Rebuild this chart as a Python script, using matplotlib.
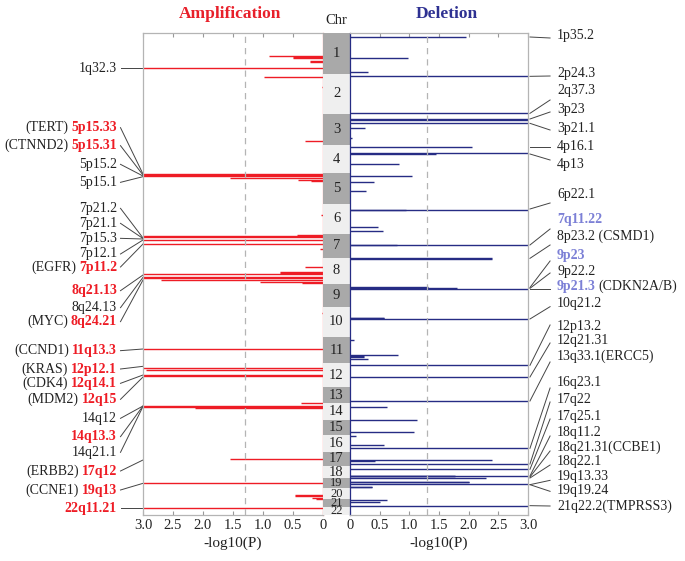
import numpy as np
import matplotlib
matplotlib.use('Agg')
import matplotlib.pyplot as plt

plt.rcParams['font.family'] = ['Liberation Serif', 'DejaVu Serif']

# chromosome sizes (approx. Mb as drawn)
chroms = list(range(1, 23))
chr_len = np.array([244, 240, 190, 168, 184, 178, 146, 156, 136, 180, 160,
                    144, 92, 104, 90, 100, 86, 74, 60, 66, 44, 50])
starts = np.concatenate([[0], np.cumsum(chr_len)[:-1]])

# amplification segments: chromosome, position in chromosome, -log10(P)
amp_chr = [1, 1, 1, 1, 1, 1, 2, 2, 3, 5, 5, 5, 5, 5, 5, 6, 7, 7, 7, 7, 7, 7,
           8, 8, 8, 8, 8, 8, 8, 8, 8, 10, 11, 12, 12, 12, 12, 14, 14, 14, 14,
           17, 19, 20, 20, 20, 20, 22]
amp_pos = [135, 144, 150, 168, 174, 212, 18, 82, 166, 2, 8, 14, 26, 38, 43, 64,
           10, 14, 20, 40, 62, 90, 56, 84, 89, 93, 114, 120, 129, 141, 147, 40,
           76, 30, 42, 70, 78, 4, 17, 24, 29, 44, 30, 38, 43, 60, 64, 10]
amp_val = [0.9, 0.5, 0.5, 0.22, 0.22, 3.0, 0.98, 0.02, 0.3, 3.0, 3.0, 3.0, 1.55,
           0.41, 0.2, 0.03, 0.43, 3.0, 3.0, 3.0, 3.0, 0.05, 0.3, 0.72, 0.72, 3.0,
           3.0, 3.0, 2.7, 1.05, 0.35, 0.02, 3.0, 3.0, 2.95, 3.0, 3.0, 0.36, 3.0,
           3.0, 2.13, 1.55, 3.0, 0.46, 0.46, 0.19, 0.11, 3.0]

# deletion segments
del_chr = [1, 1, 1, 2, 2, 3, 3, 3, 3, 3, 4, 4, 4, 4, 5, 5, 5, 6, 6, 6, 6, 7, 7,
           8, 8, 9, 9, 9, 9, 10, 10, 10, 11, 11, 11, 11, 11, 12, 12, 13, 14, 14,
           15, 16, 16, 16, 17, 17, 17, 18, 18, 18, 18, 18, 19, 19, 19, 19, 19,
           21, 21, 21]
del_pos = [24, 150, 232, 16, 236, 32, 36, 56, 84, 146, 10, 48, 51, 112, 18, 54,
           108, 34, 36, 140, 160, 65, 68, 2, 6, 18, 23, 26, 30, 66, 70, 74, 20,
           108, 118, 122, 132, 12, 82, 82, 23, 101, 74, 3, 61, 80, 52, 55, 74,
           20, 58, 59, 62, 69, 20, 24, 34, 50, 54, 4, 14, 38]
del_val = [1.96, 0.97, 0.3, 3.0, 3.0, 3.0, 3.0, 3.0, 0.25, 0.04, 2.05, 3.0, 1.45,
           0.83, 1.05, 0.4, 0.27, 0.94, 3.0, 0.48, 0.56, 0.8, 3.0, 2.4, 2.4,
           1.31, 1.31, 1.8, 3.0, 0.58, 0.58, 3.0, 0.06, 0.81, 0.24, 0.24, 0.3,
           3.0, 3.0, 3.0, 0.62, 1.13, 1.08, 0.1, 0.58, 3.0, 2.4, 0.42, 3.0, 3.0,
           1.77, 3.0, 1.77, 2.3, 2.0, 2.0, 3.0, 0.37, 0.37, 0.63, 0.5, 3.0]

# left labels: band, gene, highlighted, label y, target y (genome units)
amp_band = ['1q32.3', '5p15.33', '5p15.31', '5p15.2', '5p15.1', '7p21.2',
            '7p21.1', '7p15.3', '7p12.1', '7p11.2', '8q21.13', '8q24.13',
            '8q24.21', '11q13.3', '12p12.1', '12q14.1', '12q15', '14q12',
            '14q13.3', '14q21.1', '17q12', '19q13', '22q11.21']
amp_gene = ['', '(TERT)', '(CTNND2)', '', '', '', '', '', '', '(EGFR)', '', '',
            '(MYC)', '(CCND1)', '(KRAS)', '(CDK4)', '(MDM2)', '', '', '',
            '(ERBB2)', '(CCNE1)', '']
amp_hl = [0, 1, 1, 0, 0, 0, 0, 0, 0, 1, 1, 0, 1, 1, 1, 1, 1, 0, 1, 0, 1, 1, 1]
amp_lab_y = [212, 568, 676, 788, 896, 1052, 1142, 1232, 1326, 1404, 1546, 1648,
             1732, 1906, 2016, 2102, 2198, 2312, 2422, 2516, 2628, 2742, 2852]
amp_tgt_y = [212, 846, 852, 858, 862, 1230, 1233, 1236, 1242, 1266, 1452, 1466,
             1482, 1896, 2000, 2052, 2064, 2238, 2238, 2241, 2562, 2702, 2852]

# right labels
del_band = ['1p35.2', '2p24.3', '2q37.3', '3p23', '3p21.1', '4p16.1', '4p13',
            '6p22.1', '7q11.22', '8p23.2 (CSMD1)', '9p23', '9p22.2', '9p21.3',
            '10q21.2', '12p13.2', '12q21.31', '13q33.1(ERCC5)', '16q23.1',
            '17q22', '17q25.1', '18q11.2', '18q21.31(CCBE1)', '18q22.1',
            '19q13.33', '19q19.24', '21q22.2(TMPRSS3)']
del_gene = [''] * 12 + ['(CDKN2A/B)'] + [''] * 13
del_hl = [0, 0, 0, 0, 0, 0, 0, 0, 1, 0, 1, 0, 1, 0, 0, 0, 0, 0, 0, 0, 0, 0, 0,
          0, 0, 0]
del_lab_y = [18, 246, 346, 462, 572, 682, 788, 968, 1118, 1222, 1332, 1432,
             1520, 1622, 1762, 1842, 1942, 2098, 2198, 2298, 2396, 2486, 2572,
             2662, 2744, 2842]
del_tgt_y = [24, 260, 482, 516, 542, 684, 726, 1056, 1272, 1352, 1527, 1532,
             1536, 1716, 1994, 2064, 2208, 2492, 2586, 2618, 2658, 2664, 2670,
             2710, 2710, 2836]
del_end_y = [30, 258, 402, 474, 582, 684, 762, 1020, 1176, 1272, 1368, 1440,
             1536, 1642, 1752, 1860, 1974, 2130, 2214, 2316, 2418, 2508, 2592,
             2684, 2750, 2838]

RED = '#ee1c25'
NAVY = '#262c84'
PURPLE = '#7c80d6'
GREY = '#b4b4b4'
TXT = '#222222'
FS = 10.5
FS_LAB = 10

total = chr_len.sum()


def gpos(c, p):
    return starts[np.array(c) - 1] + np.array(p)


fig = plt.figure(figsize=(6.85, 5.61), dpi=100)
bottom, height = 46 / 561, 482 / 561
ax_amp = fig.add_axes([143 / 685, bottom, 180 / 685, height])
ax_chr = fig.add_axes([323 / 685, bottom, 27 / 685, height])
ax_del = fig.add_axes([350 / 685, bottom, 178 / 685, height])

for ax in (ax_amp, ax_chr, ax_del):
    ax.set_ylim(total, 0)
    ax.tick_params(axis='y', left=False, right=False, labelleft=False)

# bars
ax_amp.hlines(gpos(amp_chr, amp_pos), 0, amp_val, color=RED, lw=1.0)
ax_del.hlines(gpos(del_chr, del_pos), 0, del_val, color=NAVY, lw=1.0)

ticks = [0, 0.5, 1.0, 1.5, 2.0, 2.5, 3.0]
tick_lab = ['0', '0.5', '1.0', '1.5', '2.0', '2.5', '3.0']
for ax, lim in ((ax_amp, (3, 0)), (ax_del, (0, 3))):
    ax.set_xlim(*lim)
    ax.set_xticks(ticks)
    ax.set_xticklabels(tick_lab)
    ax.tick_params(axis='x', direction='in', top=True, length=3, color='#999999',
                   labelsize=FS, pad=3, labelcolor=TXT)
    ax.axvline(1.3, color=GREY, lw=0.9, ls=(0, (5, 4)))
    ax.set_xlabel('-log10(P)', fontsize=FS + 0.5, color=TXT, labelpad=3)
    for s in ax.spines.values():
        s.set_color(GREY)
        s.set_linewidth(0.9)

ax_amp.spines['right'].set_color('#ff7070')
ax_del.spines['left'].set_color(NAVY)

# chromosome column
cols = ['#a9a9a9' if c % 2 else '#efefef' for c in chroms]
ax_chr.barh(starts + chr_len / 2, 1, height=chr_len, color=cols, edgecolor='none')
ax_chr.set_xlim(0, 1)
ax_chr.set_xticks([])
for s in ax_chr.spines.values():
    s.set_visible(False)
for c, st, ln in zip(chroms, starts, chr_len):
    ax_chr.text(0.5, st + ln / 2, str(c), ha='center', va='center',
                fontsize=FS if c < 19 else 9, color=TXT, clip_on=False)

# left labels
tr = ax_amp.get_yaxis_transform()
for band, gene, hl, ly, ty in zip(amp_band, amp_gene, amp_hl, amp_lab_y, amp_tgt_y):
    ax_amp.plot([-0.125, 0], [ly, ty], transform=tr, clip_on=False,
                color='#444444', lw=0.7)
    t = ax_amp.text(-0.145, ly, band, transform=tr, ha='right', va='center',
                    fontsize=FS_LAB, color=RED if hl else TXT,
                    fontweight='bold' if hl else 'normal')
    if gene:
        ax_amp.annotate(gene, xy=(0, 0.5), xycoords=t, xytext=(-2, 0),
                        textcoords='offset points', ha='right', va='center',
                        fontsize=FS_LAB, color=TXT)

# right labels
tr = ax_del.get_yaxis_transform()
for band, gene, hl, ly, ty, ey in zip(del_band, del_gene, del_hl, del_lab_y,
                                       del_tgt_y, del_end_y):
    ax_del.plot([1.011, 1.124], [ty, ey], transform=tr, clip_on=False,
                color='#444444', lw=0.7)
    t = ax_del.text(1.163, ly, band, transform=tr, ha='left', va='center',
                    fontsize=FS_LAB, color=PURPLE if hl else TXT,
                    fontweight='bold' if hl else 'normal')
    if gene:
        ax_del.annotate(gene, xy=(1, 0.5), xycoords=t, xytext=(2, 0),
                        textcoords='offset points', ha='left', va='center',
                        fontsize=FS_LAB, color=TXT)

fig.text(230 / 685, 1 - 14 / 561, 'Amplification', ha='center', va='center',
         fontsize=12.5, fontweight='bold', color='#e8202a')
fig.text(447 / 685, 1 - 14 / 561, 'Deletion', ha='center', va='center',
         fontsize=12.5, fontweight='bold', color='#2e3192')
fig.text(336 / 685, 1 - 20 / 561, 'Chr', ha='center', va='center',
         fontsize=FS, color=TXT)

fig.savefig('out.png', dpi=100)
